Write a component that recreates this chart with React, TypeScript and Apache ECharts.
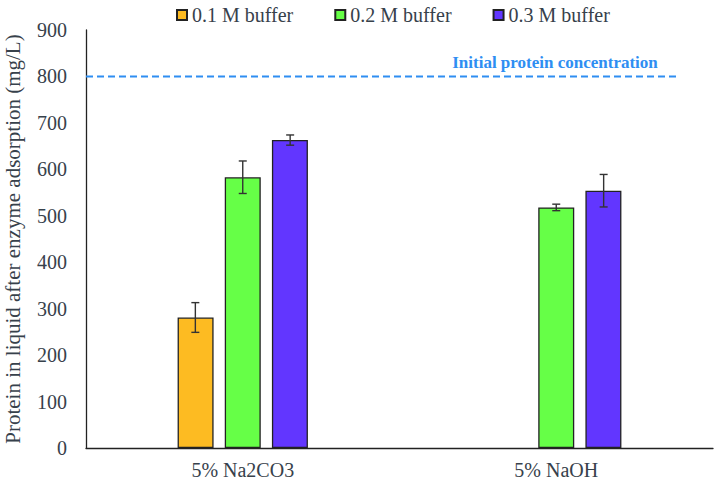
import React, { useEffect, useRef } from "react";
import * as echarts from "echarts";

const categories = ["5% Na2CO3", "5% NaOH"];
const seriesNames = ["0.1 M buffer", "0.2 M buffer", "0.3 M buffer"];
const values01 = [281, null];
const values02 = [583, 518];
const values03 = [663, 554];
const err01 = [32, null];
const err02 = [35, 7];
const err03 = [11, 35];
const initialConcentration = 800;
const yTicks = { min: 0, max: 900, interval: 100 };

const colors = ["#FDBB22", "#66FF47", "#6236FF"];
const textColor = "#37414b";
const FONT = "'Liberation Serif', 'Times New Roman', serif";

export default function App() {
  const ref = useRef<HTMLDivElement>(null);
  useEffect(() => {
    if (!ref.current) return;
    const chart = echarts.init(ref.current, null, { renderer: "svg" });
    const valueSets = [values01, values02, values03];
    const errSets = [err01, err02, err03];
    const barWidth = 36;
    const step = 47.4;

    const barSeries = valueSets.map((vals, i) => ({
      type: "bar",
      name: seriesNames[i],
      data: vals,
      barWidth,
      barGap: "31%",
      itemStyle: { color: colors[i], borderColor: "#222", borderWidth: 1.3 },
      xAxisIndex: 0,
      yAxisIndex: 0,
    }));

    const errSeries = valueSets.map((vals, i) => ({
      type: "custom",
      name: "err" + i,
      xAxisIndex: 0,
      yAxisIndex: 0,
      z: 5,
      silent: true,
      data: vals
        .map((v, c) => (v == null || errSets[i][c] == null ? null : [c, v, errSets[i][c]]))
        .filter((d) => d !== null),
      renderItem: (params: any, api: any) => {
        const c = api.value(0);
        const v = api.value(1);
        const e = api.value(2);
        const top = api.coord([c, v + e]);
        const bot = api.coord([c, v - e]);
        const x = top[0] + (i - 1) * step;
        const cap = 4;
        const style = { stroke: "#333", lineWidth: 1.4, fill: null };
        return {
          type: "group",
          children: [
            { type: "line", shape: { x1: x, y1: top[1], x2: x, y2: bot[1] }, style },
            { type: "line", shape: { x1: x - cap, y1: top[1], x2: x + cap, y2: top[1] }, style },
            { type: "line", shape: { x1: x - cap, y1: bot[1], x2: x + cap, y2: bot[1] }, style },
          ],
        };
      },
    }));

    const lineSeries = {
      type: "line",
      name: "initial",
      xAxisIndex: 1,
      yAxisIndex: 0,
      symbol: "none",
      silent: true,
      lineStyle: { color: "#2E8EF2", width: 2, type: [7, 4] },
      data: [
        [0, initialConcentration],
        [0.944, initialConcentration],
      ],
      markPoint: {
        symbol: "circle",
        symbolSize: 0,
        silent: true,
        data: [
          {
            coord: [0.748, initialConcentration],
            label: {
              show: true,
              position: "top",
              distance: 5,
              formatter: "Initial protein concentration",
              color: "#2E8EF2",
              fontFamily: FONT,
              fontWeight: "bold",
              fontSize: 17,
            },
          },
        ],
      },
      z: 6,
    };

    chart.setOption({
      animation: false,
      textStyle: { fontFamily: FONT },
      grid: { left: 86, right: 2, top: 30, bottom: 34, containLabel: false, outerBoundsMode: "none" },
      legend: {
        data: seriesNames,
        top: 0,
        left: 171,
        itemWidth: 10,
        itemHeight: 10,
        itemGap: 41,
        icon: "rect",
        textStyle: { fontFamily: FONT, fontSize: 20, color: textColor },
      },
      xAxis: [
        {
          type: "category",
          data: categories,
          axisLine: { lineStyle: { color: "#222", width: 1.3 } },
          axisTick: { show: false },
          axisLabel: { fontFamily: FONT, fontSize: 20, color: textColor, margin: 12 },
        },
        {
          type: "value",
          min: 0,
          max: 1,
          show: false,
        },
      ],
      yAxis: {
        type: "value",
        min: yTicks.min,
        max: yTicks.max,
        interval: yTicks.interval,
        name: "Protein in liquid after enzyme adsorption (mg/L)",
        nameLocation: "middle",
        nameGap: 63,
        nameTextStyle: { fontFamily: FONT, fontSize: 21, color: textColor },
        axisLine: { show: true, lineStyle: { color: "#222", width: 1.3 } },
        axisTick: { show: false },
        splitLine: { show: false },
        axisLabel: { fontFamily: FONT, fontSize: 20, color: textColor, margin: 19 },
      },
      series: [...barSeries, ...errSeries, lineSeries],
    });
    return () => chart.dispose();
  }, []);
  return <div ref={ref} style={{ width: 715, height: 482, position: "absolute", left: 0, top: 0 }} />;
}
